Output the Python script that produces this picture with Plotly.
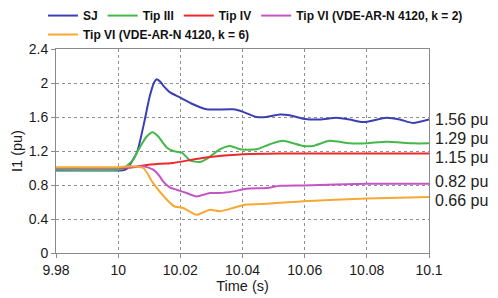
import plotly.graph_objects as go

# ---- data ----
sj_t = [9.98, 10.0, 10.0011, 10.0027, 10.006, 10.0081, 10.0102, 10.0116, 10.0124, 10.0134, 10.0145, 10.0167,
        10.0199, 10.0241, 10.0284, 10.037, 10.0402, 10.0445, 10.0477, 10.052, 10.0552, 10.0595, 10.0649,
        10.0702, 10.0745, 10.0788, 10.0863, 10.0906, 10.0949, 10.1]
sj_v = [0.97, 0.97, 0.97, 0.99, 1.18, 1.49, 1.85, 2.01, 2.045, 2.02, 1.97, 1.89,
        1.83, 1.75, 1.69, 1.69, 1.66, 1.60, 1.60, 1.63, 1.62, 1.58, 1.57,
        1.59, 1.57, 1.54, 1.59, 1.57, 1.53, 1.57]

t3_t = [9.98, 10.0, 10.0016, 10.0049, 10.006, 10.0092, 10.0111, 10.0129, 10.0156, 10.0177, 10.0205, 10.0231,
        10.0263, 10.029, 10.0327, 10.036, 10.0392, 10.0445, 10.0488, 10.053, 10.0595, 10.0627, 10.068,
        10.0745, 10.0799, 10.0863, 10.0949, 10.1]
t3_v = [0.98, 0.98, 0.99, 1.10, 1.18, 1.37, 1.42, 1.37, 1.24, 1.20, 1.18, 1.09,
        1.07, 1.12, 1.22, 1.26, 1.22, 1.22, 1.28, 1.32, 1.26, 1.26, 1.32,
        1.29, 1.29, 1.31, 1.29, 1.29]

t4_t = [9.98, 10.0, 10.005, 10.0081, 10.0134, 10.0177, 10.0241, 10.0295, 10.0392, 10.052, 10.1]
t4_v = [1.0, 1.0, 1.01, 1.03, 1.05, 1.06, 1.10, 1.13, 1.16, 1.17, 1.17]

t6a_t = [9.98, 10.0, 10.004, 10.0081, 10.0113, 10.0134, 10.0145, 10.0167, 10.0188, 10.022, 10.0252, 10.0295,
         10.0327, 10.037, 10.0413, 10.0477, 10.052, 10.0595, 10.0799, 10.1]
t6a_v = [1.0, 1.0, 1.01, 1.02, 0.98, 0.90, 0.84, 0.77, 0.745, 0.705, 0.665, 0.705,
         0.705, 0.725, 0.755, 0.765, 0.79, 0.795, 0.815, 0.815]

t6b_t = [9.98, 10.0, 10.004, 10.0081, 10.0113, 10.0156, 10.018, 10.0209, 10.0252, 10.0295, 10.0327, 10.037,
         10.0413, 10.0477, 10.052, 10.0595, 10.0799, 10.1]
t6b_v = [1.01, 1.01, 1.02, 1.0, 0.82, 0.63, 0.55, 0.53, 0.45, 0.51, 0.49, 0.53,
         0.57, 0.58, 0.59, 0.61, 0.64, 0.66]

series_names = ["SJ", "Tip III", "Tip IV", "Tip VI (VDE-AR-N 4120, k = 2)", "Tip VI (VDE-AR-N 4120, k = 6)"]
series_t = [sj_t, t3_t, t4_t, t6a_t, t6b_t]
series_v = [sj_v, t3_v, t4_v, t6a_v, t6b_v]
colors = ["#3a3fb3", "#45b84b", "#ec2a2e", "#c455c4", "#f7a832"]
legend_ids = ["legend", "legend", "legend", "legend", "legend2"]

end_labels = ["1.56 pu", "1.29 pu", "1.15 pu", "0.82 pu", "0.66 pu"]
end_values = [1.56, 1.29, 1.15, 0.82, 0.66]
label_shift = [1, 5, -2, 2, -4]

xtick_vals = [9.98, 10.0, 10.02, 10.04, 10.06, 10.08, 10.1]
xtick_text = ["9.98", "10", "10.02", "10.04", "10.06", "10.08", "10.1"]
ytick_vals = [0, 0.4, 0.8, 1.2, 1.6, 2.0, 2.4]
ytick_text = ["0", "0.4", "0.8", "1.2", "1.6", "2", "2.4"]

FONT = "Arial, Liberation Sans, sans-serif"

fig = go.Figure()
for name, t, v, c, lg in zip(series_names, series_t, series_v, colors, legend_ids):
    fig.add_trace(go.Scatter(x=t, y=v, name=name, mode="lines", legend=lg,
                             line=dict(color=c, width=2, shape="spline", smoothing=0.6)))

for txt, val, sh in zip(end_labels, end_values, label_shift):
    fig.add_annotation(x=1, xref="paper", y=val, yref="y", text=txt, showarrow=False,
                       xanchor="left", yanchor="middle", xshift=4, yshift=sh,
                       font=dict(family=FONT, size=16, color="#222"))

axis_common = dict(showline=True, linecolor="#8a8a8a", linewidth=1, mirror=True,
                   showgrid=True, gridcolor="#8f8f8f", griddash="dot", gridwidth=1,
                   ticks="outside", ticklen=4, tickcolor="#8a8a8a", zeroline=False,
                   automargin=True,
                   tickfont=dict(family=FONT, size=14, color="#1a1a1a"))

fig.update_xaxes(range=[9.98, 10.1], tickvals=xtick_vals, ticktext=xtick_text,
                 title=dict(text="Time (s)", font=dict(family=FONT, size=14.5, color="#1a1a1a"), standoff=4),
                 **axis_common)
fig.update_yaxes(range=[0, 2.4], tickvals=ytick_vals, ticktext=ytick_text,
                 title=dict(text="I1 (pu)", font=dict(family=FONT, size=14.5, color="#1a1a1a"), standoff=2),
                 **axis_common)

legend_style = dict(orientation="h", xanchor="left", yanchor="top",
                    font=dict(family=FONT, size=12, color="#111", weight="bold"),
                    itemwidth=30, bgcolor="rgba(0,0,0,0)", traceorder="normal")

fig.update_layout(
    width=498, height=298,
    margin=dict(l=56, r=69, t=49, b=45, autoexpand=False),
    plot_bgcolor="white", paper_bgcolor="white",
    showlegend=True,
    legend=dict(x=-0.035, y=1.235, **legend_style),
    legend2=dict(x=-0.035, y=1.142, **legend_style),
)

fig.write_html("out.html", config={"displayModeBar": False},
               post_script="document.body.style.margin='0';")
